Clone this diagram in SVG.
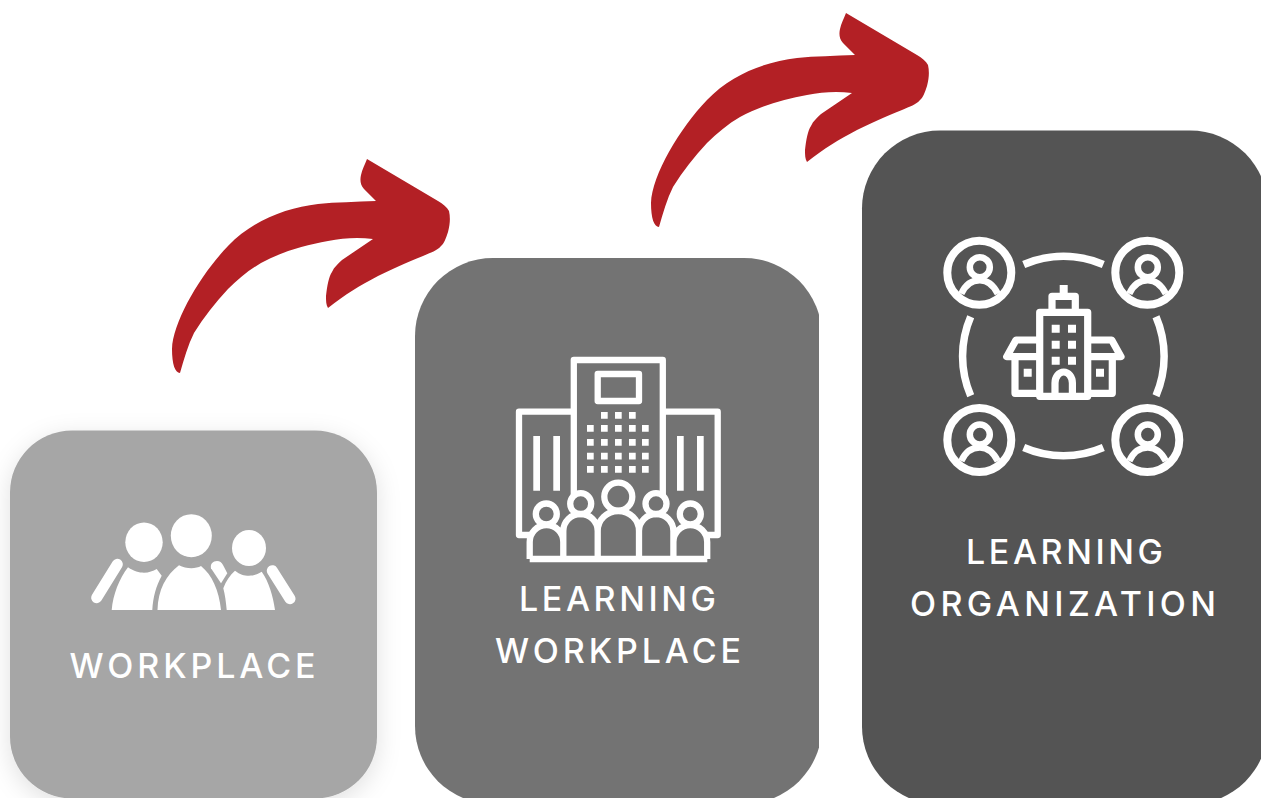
<svg xmlns="http://www.w3.org/2000/svg" xmlns:xlink="http://www.w3.org/1999/xlink" width="1261" height="798" viewBox="0 0 1261 798">
<style>
.lbl{font-family:"Inter","Liberation Sans",sans-serif;font-size:34px;font-weight:500;fill:#fff}
.ln{fill:none;stroke:#fff;stroke-linejoin:round;stroke-linecap:butt}
.w{fill:#fff}
</style>
<defs>
<filter id="sh" x="-20%" y="-20%" width="140%" height="140%"><feDropShadow dx="0" dy="6" stdDeviation="12" flood-color="#000" flood-opacity="0.12"/></filter>
<clipPath id="cut2"><rect x="400" y="240" width="419" height="560"/></clipPath>
<path id="arrow" fill="#b32025" d="M19 227C14 227 11 218 11 203C12 175 40 128 67 100C92 74 125 62 157 58C175 56 195 56 215 55L203 43C199 39 199 33 200 29C201 24 204 18 206 13L277 55C282 58 286 61 288 65C289.500 72 289 78 287 86C285 92 283 98 280 100C276 105 270 106 262 110C245 117 231 123 217 130C198 140 185 148 167 162C165 159 165 155 165 150C166 140 168 130 171 126C173 121 177 118 181 114L212 93C197 91 182 92 167 95C144 99 120 106 100 117C88 124 77 133 67 143C54 157 43 171 33 187C27 199 23 213 19 227Z"/>
<g id="personIcon">
<circle cx="0" cy="0" r="32" class="ln" stroke-width="8"/>
<circle cx="0.500" cy="-5.500" r="10" class="ln" stroke-width="6.500"/>
<path d="M-18 21C-14 12 -7 7.500 0.500 7.500C8 7.500 14 12 18.500 21" class="ln" stroke-width="6.500"/>
</g>
</defs>

<g id="connectors">
<use xlink:href="#arrow" href="#arrow" x="161" y="146"/>
<use xlink:href="#arrow" href="#arrow" x="640" y="0"/>
</g>

<g id="node-workplace">
<rect x="10" y="430.500" width="367" height="368" rx="62" ry="62" fill="#a6a6a6" filter="url(#sh)"/>
<ellipse class="w" cx="144" cy="542.300" rx="18.700" ry="19.700"/>
<ellipse class="w" cx="191.300" cy="535.700" rx="20.500" ry="21.500"/>
<ellipse class="w" cx="249" cy="548" rx="17" ry="18"/>
<path class="w" d="M157.500 610C158 590 166 575 179 565.300C186 569 196 569 201 566C212 575 219 590 221 610Z"/>
<path class="w" d="M111.700 610C113 595 119 579 128 567.300C134 571.500 139 572.700 144 572.700C149 572.700 153 571 156.700 569L161.700 575.700C156 586 153 597 152.300 610Z"/>
<path class="w" d="M226.700 610C226 602 225 595 223.300 588.300C226 581 230 575 235 570.700C240 574.500 244 575.700 249 575.700C254 575.700 258 574 261.700 571.700C269 582 273 596 275 610Z"/>
<path d="M117.300 564.300L96.700 597.700M272.300 570.700L290 598.700" fill="none" stroke="#fff" stroke-width="11" stroke-linecap="round"/>
<path class="w" d="M211 568.300C210 564 213 561 217 561C220 561 221.500 562.500 223 565L227.300 573.300L221 583.300Z"/>
<text class="lbl" x="69.500" y="678" textLength="246" lengthAdjust="spacing">WORKPLACE</text>
</g>

<g id="node-learning-workplace">
<rect x="415" y="258" width="407" height="546" rx="78" ry="78" fill="#737373" clip-path="url(#cut2)"/>
<g class="ln" stroke-width="6.300">
<path d="M573.800 495V360H662.800V495"/>
<path d="M573.800 411.700H519V535H529.500M662.800 411.700H717.700V535H707"/>
<rect x="597.700" y="374" width="41.300" height="27"/>
<path d="M529.700 559V542a16.800 17 0 0 1 33.600 0V559M563.300 559V531a17.200 17 0 0 1 34.400 0V559M597.700 559V531a20.650 20 0 0 1 41.300 0V559M639 559V531a17.200 17 0 0 1 34.400 0V559M673.400 559V542a16.900 17 0 0 1 33.800 0V559"/>
<path d="M529.700 559H707.300"/>
<circle cx="546.300" cy="514" r="10.500"/>
<circle cx="580.700" cy="503.700" r="10.500"/>
<circle cx="618.300" cy="496.700" r="14"/>
<circle cx="656" cy="503.700" r="10.500"/>
<circle cx="690.300" cy="514" r="10.500"/>
</g>
<path class="w" d="M533.300 436h6.700v54.700h-6.700zM553.300 436h6.700v54.700h-6.700zM677 436h6.700v54.700h-6.700zM697 436h6.700v54.700h-6.700z"/>
<path class="w" d="M601 412h6.700v6.700h-6.700zM615 412h6.700v6.700h-6.700zM629 412h6.700v6.700h-6.700zM587 425h6.700v6.700h-6.700zM601 425h6.700v6.700h-6.700zM615 425h6.700v6.700h-6.700zM629 425h6.700v6.700h-6.700zM642 425h6.700v6.700h-6.700zM587 439h6.700v6.700h-6.700zM601 439h6.700v6.700h-6.700zM615 439h6.700v6.700h-6.700zM629 439h6.700v6.700h-6.700zM642 439h6.700v6.700h-6.700zM587 452.700h6.700v6.700h-6.700zM601 452.700h6.700v6.700h-6.700zM615 452.700h6.700v6.700h-6.700zM629 452.700h6.700v6.700h-6.700zM642 452.700h6.700v6.700h-6.700zM587 466h6.700v6.700h-6.700zM601 466h6.700v6.700h-6.700zM615 466h6.700v6.700h-6.700zM629 466h6.700v6.700h-6.700zM642 466h6.700v6.700h-6.700z"/>
<text class="lbl" x="519" y="611" textLength="197" lengthAdjust="spacing">LEARNING</text>
<text class="lbl" x="495" y="663" textLength="246" lengthAdjust="spacing">WORKPLACE</text>
</g>

<g id="node-learning-organization">
<rect x="862" y="130.500" width="406" height="674" rx="78" ry="78" fill="#545454"/>
<use xlink:href="#personIcon" href="#personIcon" x="979.300" y="272.700"/>
<use xlink:href="#personIcon" href="#personIcon" x="1147.300" y="272.700"/>
<use xlink:href="#personIcon" href="#personIcon" x="979.300" y="440"/>
<use xlink:href="#personIcon" href="#personIcon" x="1147.300" y="440"/>
<g class="ln" stroke-width="7.500">
<path d="M1023.700 264.500A100 100 0 0 1 1103.300 264.500M1023.700 447.500A100 100 0 0 0 1103.300 447.500M970.700 316.700A100 100 0 0 0 970.700 395.700M1156 316.700A100 100 0 0 1 1156 395.700"/>
</g>
<g class="ln" stroke-width="7.200">
<path d="M1039.700 396.300V312.300H1087.700V396.300Z"/>
<path d="M1052 312V296.300H1075.300V312"/>
<path d="M1063.700 285V296" stroke-width="8"/>
<path d="M1039.700 340H1016L1006.700 356.700H1039.700M1087.700 340H1111.700L1121 356.700H1087.700"/>
<path d="M1015 356.700V393.300H1039.700M1112.300 356.700V393.300H1087.700"/>
<path d="M1055 396V383a8.700 11 0 0 1 17.400 0V396"/>
</g>
<path class="w" d="M1023.700 368.700h8v8h-8zM1096 368.700h8v8h-8zM1051.700 324.700h8v8h-8zM1068 324.700h8v8h-8zM1051.700 340.700h8v8h-8zM1068 340.700h8v8h-8zM1051.700 356.700h8v8h-8zM1068 356.700h8v8h-8z"/>
<text class="lbl" x="966" y="564" textLength="197" lengthAdjust="spacing">LEARNING</text>
<text class="lbl" x="910" y="616" textLength="306" lengthAdjust="spacing">ORGANIZATION</text>
</g>
</svg>
